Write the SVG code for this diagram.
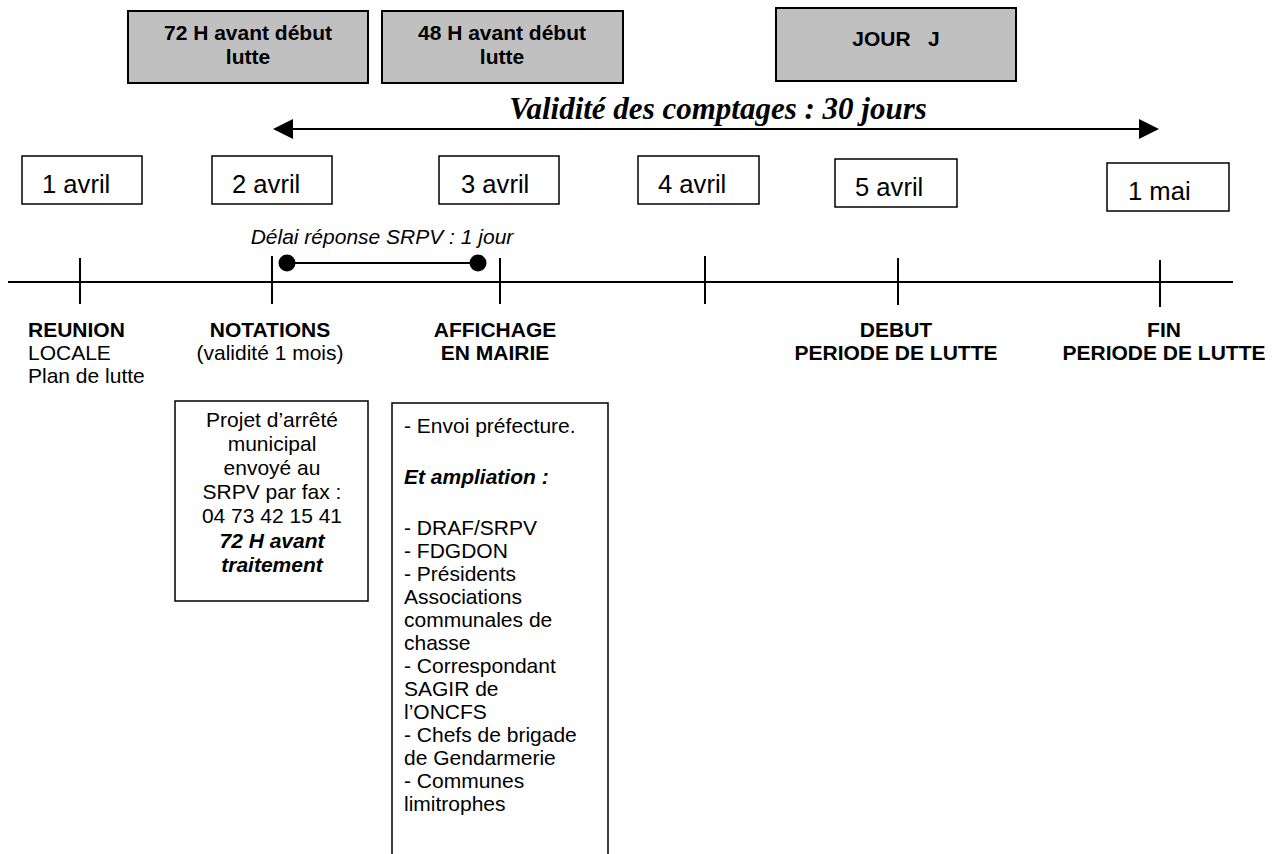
<svg xmlns="http://www.w3.org/2000/svg" width="1276" height="854" viewBox="0 0 1276 854">
<style>
.gbox{fill:#C0C0C0;stroke:#000;stroke-width:2}
.dbox{fill:#fff;stroke:#000;stroke-width:1.5}
.tbox{fill:#fff;stroke:#000;stroke-width:1.5}
.bt{font-family:"Liberation Sans",Arial,sans-serif;font-weight:bold;font-size:21px;fill:#000}
.nt{font-family:"Liberation Sans",Arial,sans-serif;font-size:21px;fill:#000}
.dt{font-family:"Liberation Sans",Arial,sans-serif;font-size:25.6px;fill:#000}
.bi{font-family:"Liberation Sans",Arial,sans-serif;font-size:21px;font-weight:bold;font-style:italic;fill:#000}
.it{font-family:"Liberation Sans",Arial,sans-serif;font-size:21px;font-style:italic;fill:#000}
.val{font-family:"Liberation Serif","Times New Roman",serif;font-size:31px;font-weight:bold;font-style:italic;fill:#000}
.c{text-anchor:middle}
.ln{stroke:#000;stroke-width:2;fill:none}
</style>
<rect width="1276" height="854" fill="#fff"/>

<g id="box-72h">
<rect class="gbox" x="128" y="11" width="240" height="72"/>
<text class="bt c" x="248" y="40">72 H avant début</text>
<text class="bt c" x="248" y="64">lutte</text>
</g>
<g id="box-48h">
<rect class="gbox" x="382" y="11" width="241" height="72"/>
<text class="bt c" x="502" y="40">48 H avant début</text>
<text class="bt c" x="502" y="64">lutte</text>
</g>
<g id="box-jour">
<rect class="gbox" x="776" y="8" width="240" height="73"/>
<text class="bt c" x="896" y="46" xml:space="preserve" style="white-space:pre">JOUR   J</text>
</g>

<g id="validite">
<text class="val c" x="718" y="119">Validité des comptages : 30 jours</text>
</g>

<g id="connectors">
<line class="ln" x1="290" y1="129" x2="1142" y2="129"/>
<polygon points="273,129 293,119 293,139" fill="#000"/>
<polygon points="1159,129 1139,119 1139,139" fill="#000"/>
<line class="ln" x1="8" y1="282" x2="1233" y2="282"/>
<line class="ln" x1="80" y1="258" x2="80" y2="304"/>
<line class="ln" x1="272" y1="256" x2="272" y2="304"/>
<line class="ln" x1="500" y1="258" x2="500" y2="304"/>
<line class="ln" x1="705" y1="256" x2="705" y2="304"/>
<line class="ln" x1="898" y1="258" x2="898" y2="305"/>
<line class="ln" x1="1160" y1="260" x2="1160" y2="307"/>
<line class="ln" x1="287" y1="263" x2="478" y2="263"/>
<circle cx="287" cy="263" r="8.5" fill="#000"/>
<circle cx="478" cy="263" r="8.5" fill="#000"/>
</g>

<g id="d1"><rect class="dbox" x="22" y="156" width="120" height="48"/><text class="dt" x="42" y="193">1 avril</text></g>
<g id="d2"><rect class="dbox" x="212" y="156" width="120" height="48"/><text class="dt" x="232" y="193">2 avril</text></g>
<g id="d3"><rect class="dbox" x="439" y="156" width="120" height="48"/><text class="dt" x="461" y="193">3 avril</text></g>
<g id="d4"><rect class="dbox" x="638" y="156" width="121" height="48"/><text class="dt" x="658" y="193">4 avril</text></g>
<g id="d5"><rect class="dbox" x="835" y="159" width="122" height="48"/><text class="dt" x="855" y="196">5 avril</text></g>
<g id="d6"><rect class="dbox" x="1107" y="163" width="122" height="48"/><text class="dt" x="1128" y="200">1 mai</text></g>

<g id="delai"><text class="it c" x="382" y="244">Délai réponse SRPV : 1 jour</text></g>

<g id="lbl-reunion">
<text class="bt" x="28" y="337">REUNION</text>
<text class="nt" x="28" y="360">LOCALE</text>
<text class="nt" x="28" y="383">Plan de lutte</text>
</g>
<g id="lbl-notations">
<text class="bt c" x="270" y="337">NOTATIONS</text>
<text class="nt c" x="270" y="360">(validité 1 mois)</text>
</g>
<g id="lbl-affichage">
<text class="bt c" x="495" y="337">AFFICHAGE</text>
<text class="bt c" x="495" y="360">EN MAIRIE</text>
</g>
<g id="lbl-debut">
<text class="bt c" x="896" y="337">DEBUT</text>
<text class="bt c" x="896" y="360">PERIODE DE LUTTE</text>
</g>
<g id="lbl-fin">
<text class="bt c" x="1164" y="337">FIN</text>
<text class="bt c" x="1164" y="360">PERIODE DE LUTTE</text>
</g>

<g id="box-projet">
<rect class="tbox" x="175" y="401" width="193" height="200"/>
<text class="nt c" x="272" y="427">Projet d’arrêté</text>
<text class="nt c" x="272" y="451">municipal</text>
<text class="nt c" x="272" y="475">envoyé au</text>
<text class="nt c" x="272" y="499">SRPV par fax :</text>
<text class="nt c" x="272" y="523">04 73 42 15 41</text>
<text class="bi c" x="272" y="548">72 H avant</text>
<text class="bi c" x="272" y="572">traitement</text>
</g>

<g id="box-envoi">
<path class="tbox" d="M392,860 V403 H608 V860"/>
<text class="nt" x="404" y="433">- Envoi préfecture.</text>
<text class="bi" x="404" y="484">Et ampliation :</text>
<text class="nt" x="404" y="535">- DRAF/SRPV</text>
<text class="nt" x="404" y="558">- FDGDON</text>
<text class="nt" x="404" y="581">- Présidents</text>
<text class="nt" x="404" y="604">Associations</text>
<text class="nt" x="404" y="627">communales de</text>
<text class="nt" x="404" y="650">chasse</text>
<text class="nt" x="404" y="673">- Correspondant</text>
<text class="nt" x="404" y="696">SAGIR de</text>
<text class="nt" x="404" y="719">l’ONCFS</text>
<text class="nt" x="404" y="742">- Chefs de brigade</text>
<text class="nt" x="404" y="765">de Gendarmerie</text>
<text class="nt" x="404" y="788">- Communes</text>
<text class="nt" x="404" y="811">limitrophes</text>
</g>
</svg>
